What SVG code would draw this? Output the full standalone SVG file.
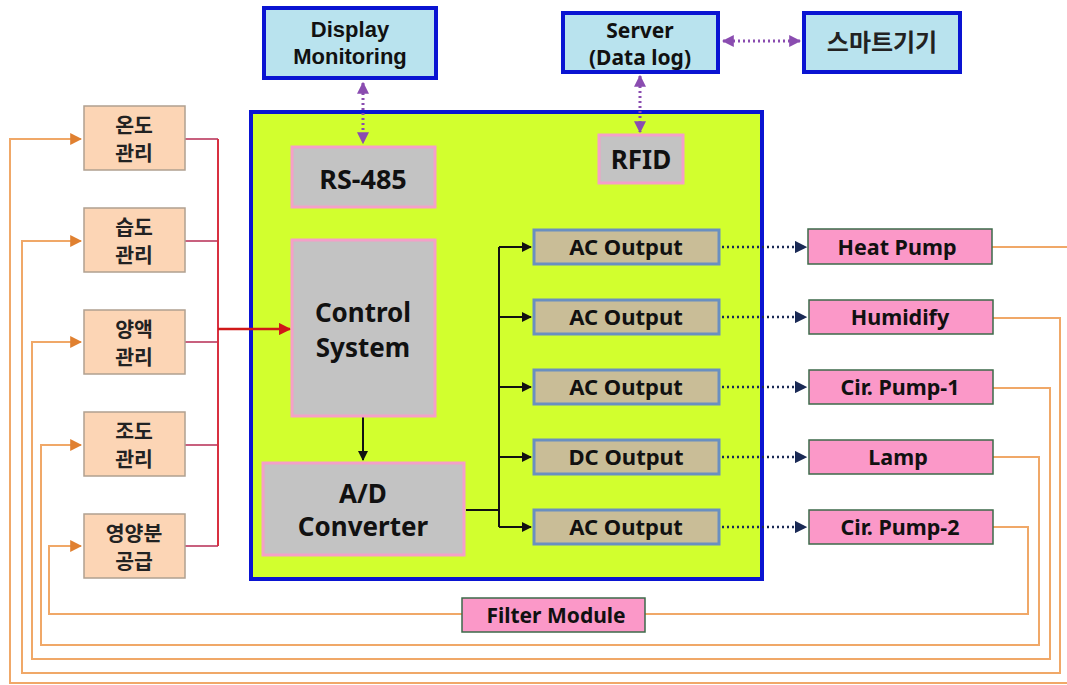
<svg xmlns="http://www.w3.org/2000/svg" width="1067" height="685" viewBox="0 0 1067 685">
<style>
text{font-family:"Noto Sans","Noto Sans CJK KR",sans-serif;font-weight:bold;fill:#111;text-anchor:middle;}
text.ar{font-family:"Liberation Sans",Arial,sans-serif;font-size:22px;}
text.ko{font-family:"Noto Sans CJK KR",sans-serif;font-weight:bold;font-size:20.5px;fill:#222;}
.ext{fill:#b9e3ee;stroke:#0a14d2;stroke-width:4;}
.gray{fill:#c3c3c3;stroke:#f4a0c8;stroke-width:3;}
.out{fill:#c9bd97;stroke:#6a8fc0;stroke-width:3;}
.dev{fill:#fb98c8;stroke:#3d6a4a;stroke-width:1.5;}
.mg{fill:#fcd5b5;stroke:#b0a090;stroke-width:1.5;}
.fb{fill:none;stroke:#f0a868;stroke-width:2;}
.pur{stroke:#8a4cb0;stroke-width:3;stroke-dasharray:2 3;fill:none;}
.nav{stroke:#1a2a55;stroke-width:2.5;stroke-dasharray:2 3;fill:none;}
.blk{stroke:#111;stroke-width:2;fill:none;}
</style>
<defs>
<marker id="ap" viewBox="0 0 10 10" refX="9" refY="5" markerWidth="4" markerHeight="4" orient="auto-start-reverse"><path d="M0,0L10,5L0,10z" fill="#8a4cb0"/></marker>
<marker id="an" viewBox="0 0 10 10" refX="9" refY="5" markerWidth="5" markerHeight="5" orient="auto"><path d="M0,0L10,5L0,10z" fill="#1a2a55"/></marker>
<marker id="ab" viewBox="0 0 10 10" refX="9" refY="5" markerWidth="5" markerHeight="5" orient="auto"><path d="M0,0L10,5L0,10z" fill="#111"/></marker>
<marker id="ar" viewBox="0 0 10 10" refX="9" refY="5" markerWidth="5" markerHeight="5" orient="auto"><path d="M0,0L10,5L0,10z" fill="#d01818"/></marker>
<marker id="ao" viewBox="0 0 10 10" refX="9" refY="5" markerWidth="6" markerHeight="6" orient="auto"><path d="M0,0L10,5L0,10z" fill="#e08030"/></marker>
</defs>
<rect width="1067" height="685" fill="#fff"/>

<g id="container"><rect x="251" y="112" width="511" height="467" fill="#d2ff2e" stroke="#0a14d2" stroke-width="4"/></g>

<g id="connectors">
<polyline class="fb" points="992,247 1070,247 1070,683 10,683 10,139 81,139" marker-end="url(#ao)"/>
<polyline class="fb" points="993,318 1060,318 1060,673 22,673 22,241 81,241" marker-end="url(#ao)"/>
<polyline class="fb" points="993,388 1050,388 1050,659 32,659 32,342 81,342" marker-end="url(#ao)"/>
<polyline class="fb" points="993,457 1039,457 1039,645 41,645 41,445 81,445" marker-end="url(#ao)"/>
<polyline class="fb" points="993,527 1028,527 1028,614 49,614 49,546 81,546" marker-end="url(#ao)"/>
<g stroke="#c8607e" stroke-width="2">
<line x1="185" y1="139" x2="218" y2="139"/>
<line x1="185" y1="241" x2="218" y2="241"/>
<line x1="185" y1="342" x2="218" y2="342"/>
<line x1="185" y1="445" x2="218" y2="445"/>
<line x1="185" y1="546" x2="218" y2="546"/>
</g>
<line x1="218" y1="139" x2="218" y2="546" stroke="#d83040" stroke-width="2"/>
<line x1="218" y1="329" x2="290" y2="329" stroke="#d01818" stroke-width="2.5" marker-end="url(#ar)"/>
<line class="pur" x1="363" y1="83" x2="363" y2="143" marker-start="url(#ap)" marker-end="url(#ap)"/>
<line class="pur" x1="640" y1="76" x2="640" y2="132" marker-start="url(#ap)" marker-end="url(#ap)"/>
<line class="pur" x1="723" y1="41" x2="800" y2="41" marker-start="url(#ap)" marker-end="url(#ap)"/>
<line class="blk" x1="363" y1="417" x2="363" y2="460" marker-end="url(#ab)"/>
<polyline class="blk" points="466,510 499,510"/>
<line class="blk" x1="499" y1="247" x2="499" y2="527"/>
<line class="blk" x1="499" y1="247" x2="531" y2="247" marker-end="url(#ab)"/>
<line class="blk" x1="499" y1="317" x2="531" y2="317" marker-end="url(#ab)"/>
<line class="blk" x1="499" y1="387" x2="531" y2="387" marker-end="url(#ab)"/>
<line class="blk" x1="499" y1="457" x2="531" y2="457" marker-end="url(#ab)"/>
<line class="blk" x1="499" y1="527" x2="531" y2="527" marker-end="url(#ab)"/>
<line class="nav" x1="722" y1="247" x2="806" y2="247" marker-end="url(#an)"/>
<line class="nav" x1="722" y1="317" x2="806" y2="317" marker-end="url(#an)"/>
<line class="nav" x1="722" y1="387" x2="806" y2="387" marker-end="url(#an)"/>
<line class="nav" x1="722" y1="457" x2="806" y2="457" marker-end="url(#an)"/>
<line class="nav" x1="722" y1="527" x2="806" y2="527" marker-end="url(#an)"/>
</g>

<g id="display"><rect class="ext" x="264" y="8" width="172" height="70"/>
<text class="ar" x="350" y="37">Display</text>
<text class="ar" x="350" y="64">Monitoring</text></g>
<g id="server"><rect class="ext" x="563" y="13" width="155" height="59"/>
<text x="640" y="38" font-size="21">Server</text>
<text x="640" y="65" font-size="21">(Data log)</text></g>
<g id="smart"><rect class="ext" x="804" y="13" width="156" height="59"/>
<text class="ko" x="882" y="51" style="font-size:24px">스마트기기</text></g>

<g id="rs485"><rect class="gray" x="292" y="147" width="143" height="60"/><text x="363" y="189" font-size="27">RS-485</text></g>
<g id="rfid"><rect class="gray" x="599" y="135" width="84" height="48"/><text x="641" y="169" font-size="26">RFID</text></g>
<g id="control"><rect class="gray" x="292" y="240" width="143" height="176"/><text x="363" y="322" font-size="26">Control</text><text x="363" y="357" font-size="26">System</text></g>
<g id="adc"><rect class="gray" x="263" y="463" width="201" height="92"/><text x="363" y="503" font-size="26">A/D</text><text x="363" y="536" font-size="26">Converter</text></g>

<g id="out1"><rect class="out" x="534" y="230" width="185" height="34"/><text x="626" y="255" font-size="22">AC Output</text></g>
<g id="out2"><rect class="out" x="534" y="300" width="185" height="34"/><text x="626" y="325" font-size="22">AC Output</text></g>
<g id="out3"><rect class="out" x="534" y="370" width="185" height="34"/><text x="626" y="395" font-size="22">AC Output</text></g>
<g id="out4"><rect class="out" x="534" y="440" width="185" height="34"/><text x="626" y="465" font-size="22">DC Output</text></g>
<g id="out5"><rect class="out" x="534" y="510" width="185" height="34"/><text x="626" y="535" font-size="22">AC Output</text></g>

<g id="heatpump"><rect class="dev" x="808" y="229" width="184" height="35"/><text x="897" y="255" font-size="21.5">Heat Pump</text></g>
<g id="humidify"><rect class="dev" x="809" y="300" width="184" height="34"/><text x="900" y="325" font-size="21.5">Humidify</text></g>
<g id="cirpump1"><rect class="dev" x="809" y="370" width="184" height="34"/><text x="900" y="395" font-size="21.5">Cir. Pump-1</text></g>
<g id="lamp"><rect class="dev" x="809" y="440" width="184" height="34"/><text x="898" y="465" font-size="21.5">Lamp</text></g>
<g id="cirpump2"><rect class="dev" x="809" y="510" width="184" height="34"/><text x="900" y="535" font-size="21.5">Cir. Pump-2</text></g>
<g id="filter"><rect class="dev" x="462" y="598" width="183" height="34"/><text x="556" y="623" font-size="21">Filter Module</text></g>

<g id="temp"><rect class="mg" x="84" y="106" width="101" height="64"/><text class="ko" x="134" y="133">온도</text><text class="ko" x="134" y="161">관리</text></g>
<g id="humid"><rect class="mg" x="84" y="208" width="101" height="64"/><text class="ko" x="134" y="235">습도</text><text class="ko" x="134" y="263">관리</text></g>
<g id="nutrient"><rect class="mg" x="84" y="310" width="101" height="64"/><text class="ko" x="134" y="337">양액</text><text class="ko" x="134" y="365">관리</text></g>
<g id="light"><rect class="mg" x="84" y="412" width="101" height="64"/><text class="ko" x="134" y="439">조도</text><text class="ko" x="134" y="467">관리</text></g>
<g id="feed"><rect class="mg" x="84" y="514" width="101" height="64"/><text class="ko" x="134" y="541">영양분</text><text class="ko" x="134" y="569">공급</text></g>
</svg>
